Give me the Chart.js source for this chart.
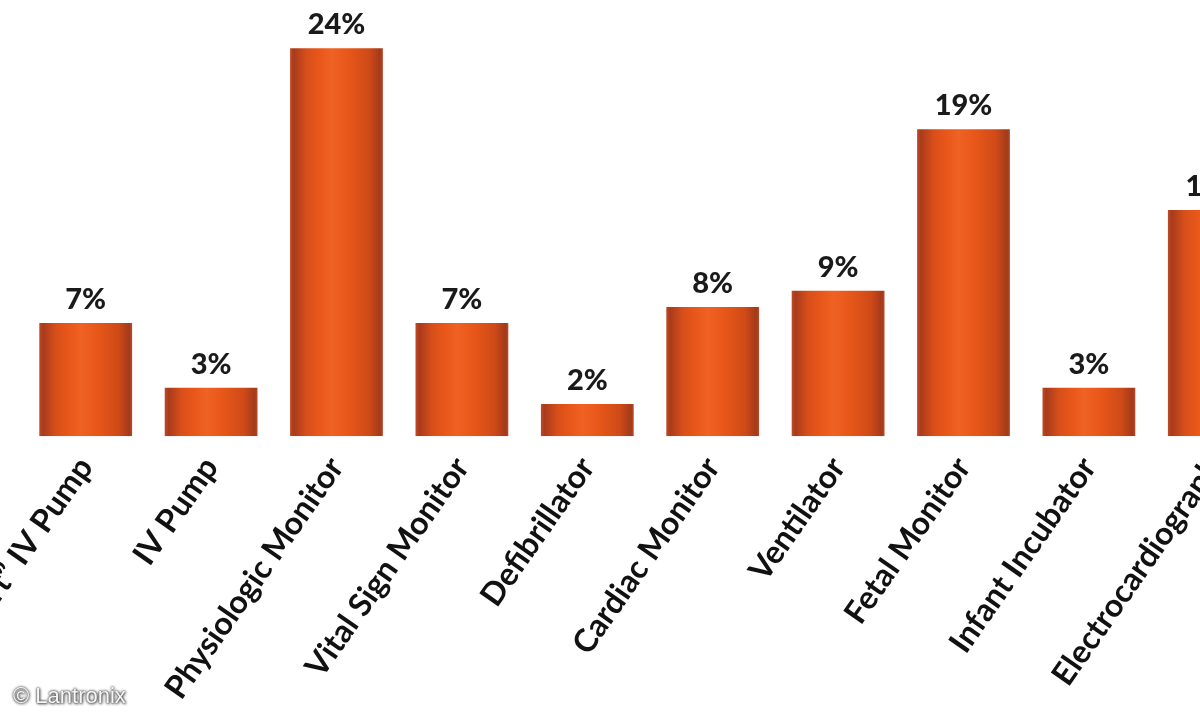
<!DOCTYPE html>
<html>
<head>
<meta charset="utf-8">
<script src="https://cdn.jsdelivr.net/npm/chart.js@4.4.1/dist/chart.umd.min.js"></script>
<style>
  html,body{margin:0;padding:0;background:#fff;overflow:hidden;width:1200px;height:720px}
  #wrap{position:absolute;left:-200px;top:-29px;width:1500px;height:741px}
  #mark{position:absolute;left:13px;top:683px;font-family:"Liberation Sans",Arial,sans-serif;font-size:22px;color:#f6f6f6;
    text-shadow:0 0 2px #444,0 0 3px #555,1px 1px 3px #666}
</style>
</head>
<body>
<div id="wrap"><canvas id="data_chart"></canvas></div>
<div id="mark">© Lantronix</div>
<script>
// devices and share of connected devices (%)
const devices=["\u201cSmart\u201d IV Pump","IV Pump","Physiologic Monitor","Vital Sign Monitor","Defibrillator",
  "Cardiac Monitor","Ventilator","Fetal Monitor","Infant Incubator","Electrocardiograph"]
const share=[7,3,24,7,2,8,9,19,3,14]
const y_max=26

const BAR_PCT=0.74

function barGradient(c){
  const chart=c.chart
  const sx=chart.scales && chart.scales.x
  if(!sx || !sx.width || c.type!=='data') return '#e8561c'
  const cx=sx.getPixelForValue(c.dataIndex)
  const w=sx.width/devices.length*BAR_PCT
  const g=chart.ctx.createLinearGradient(cx-w/2,0,cx+w/2,0)
  g.addColorStop(0,'#c04a26')
  g.addColorStop(0.04,'#a83b1c')
  g.addColorStop(0.18,'#d84f1a')
  g.addColorStop(0.32,'#e9571a')
  g.addColorStop(0.45,'#ef6224')
  g.addColorStop(0.62,'#e85719')
  g.addColorStop(0.85,'#cf4a18')
  g.addColorStop(0.97,'#a33a1a')
  g.addColorStop(1,'#b8482a')
  return g
}

const valueLabels={
  id:'valueLabels',
  afterDatasetsDraw(chart){
    const ctx=chart.ctx
    const meta=chart.getDatasetMeta(0)
    ctx.save()
    ctx.font='900 29px Lato, "Open Sans", sans-serif'
    ctx.fillStyle='#1a1a1a'
    ctx.textAlign='center'
    ctx.textBaseline='bottom'
    meta.data.forEach((bar,i)=>{
      ctx.fillText(share[i]+'%',bar.x,bar.y-9)
    })
    ctx.restore()
  }
}

let data_chart=new Chart('data_chart',{
  type:'bar',
  data:{
    labels:devices,
    datasets:[{
      data:share,
      backgroundColor:barGradient,
      borderWidth:0,
      categoryPercentage:1,
      barPercentage:BAR_PCT
    }]
  },
  options:{
    responsive:true,
    maintainAspectRatio:false,
    animation:false,
    layout:{padding:{left:223,right:23,top:45,bottom:0}},
    plugins:{legend:{display:false},tooltip:{enabled:false}},
    scales:{
      x:{
        grid:{display:false},
        border:{display:false},
        ticks:{
          autoSkip:false,
          minRotation:55,
          maxRotation:55,
          padding:6,
          color:'#111',
          font:{family:'Lato, "Open Sans", sans-serif',size:32,weight:'bold'}
        }
      },
      y:{
        display:false,
        min:0,
        max:y_max
      }
    }
  },
  plugins:[valueLabels]
})
</script>
</body>
</html>
